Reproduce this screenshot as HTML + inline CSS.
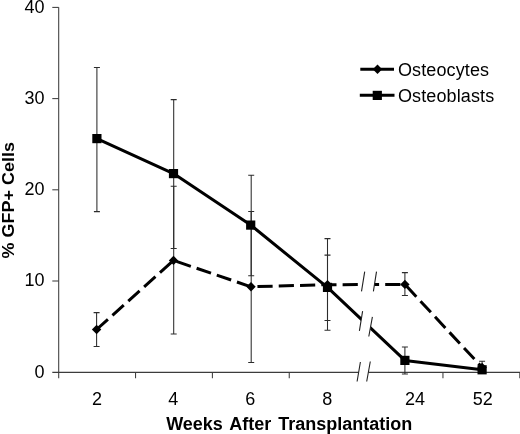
<!DOCTYPE html><html><head><meta charset="utf-8"><style>html,body{margin:0;padding:0;background:#fff}svg{display:block;will-change:transform}text{font-family:"Liberation Sans",sans-serif;fill:#000}</style></head><body>
<svg width="520" height="434" viewBox="0 0 520 434">
<rect width="520" height="434" fill="#fff"/>
<g stroke="#3c3c3c" stroke-width="1.05" fill="none">
<line x1="58.7" y1="7.3" x2="58.7" y2="378.2"/>
<line x1="52.3" y1="372.35" x2="520" y2="372.35"/>
<line x1="52.3" y1="281.00" x2="58.7" y2="281.00"/>
<line x1="52.3" y1="189.80" x2="58.7" y2="189.80"/>
<line x1="52.3" y1="98.60" x2="58.7" y2="98.60"/>
<line x1="52.3" y1="7.40" x2="58.7" y2="7.40"/>
<line x1="135.55" y1="372.2" x2="135.55" y2="378.2"/>
<line x1="212.40" y1="372.2" x2="212.40" y2="378.2"/>
<line x1="289.25" y1="372.2" x2="289.25" y2="378.2"/>
<line x1="366.10" y1="372.2" x2="366.10" y2="378.2"/>
<line x1="442.95" y1="372.2" x2="442.95" y2="378.2"/>
<line x1="519.80" y1="372.2" x2="519.80" y2="378.2"/>
</g>
<g stroke="#2c2c2c" stroke-width="1.05" fill="none">
<path d="M93.9 67.4H99.9M93.9 211.6H99.9M96.9 67.4V211.6"/>
<path d="M170.7 99.6H176.7M170.7 248.5H176.7M173.7 99.6V248.5"/>
<path d="M248.2 175.2H254.2M248.2 275.8H254.2M251.2 175.2V275.8"/>
<path d="M324.5 255.1H330.5M324.5 320.4H330.5M327.5 255.1V320.4"/>
<path d="M401.9 346.9H407.9M401.9 373.9H407.9M404.9 346.9V373.9"/>
<path d="M479.1 361.3H485.1M479.1 371H485.1M482.1 361.3V371"/>
<path d="M93.6 312.6H99.6M93.6 346.5H99.6M96.6 312.6V346.5"/>
<path d="M170.7 186.3H176.7M170.7 333.9H176.7M173.7 186.3V333.9"/>
<path d="M248.2 211.5H254.2M248.2 362.4H254.2M251.2 211.5V362.4"/>
<path d="M324.5 238.6H330.5M324.5 330.3H330.5M327.5 238.6V330.3"/>
<path d="M401.9 272.6H407.9M401.9 295.4H407.9M404.9 272.6V295.4"/>
</g>
<polyline points="96.6,329.5 173.5,260.4 251.0,286.8 327.5,284.7 404.9,284.4 482.1,367.4" fill="none" stroke="#000" stroke-width="3" stroke-dasharray="15.2 6.1" stroke-linejoin="round"/>
<polyline points="96.9,138.6 173.5,173.6 250.7,225.1 327.5,287.4 404.9,360.4 482.1,369.8" fill="none" stroke="#000" stroke-width="3" stroke-linejoin="round"/>
<path d="M91.9 329.5L96.6 324.8L101.3 329.5L96.6 334.2Z" fill="#000"/>
<path d="M168.8 260.4L173.5 255.7L178.2 260.4L173.5 265.1Z" fill="#000"/>
<path d="M246.3 286.8L251.0 282.1L255.7 286.8L251.0 291.5Z" fill="#000"/>
<path d="M322.8 284.7L327.5 280.0L332.2 284.7L327.5 289.4Z" fill="#000"/>
<path d="M400.2 284.4L404.9 279.7L409.6 284.4L404.9 289.1Z" fill="#000"/>
<path d="M477.4 367.4L482.1 362.7L486.8 367.4L482.1 372.1Z" fill="#000"/>
<rect x="92.3" y="134.0" width="9.2" height="9.2" fill="#000"/>
<rect x="168.9" y="169.0" width="9.2" height="9.2" fill="#000"/>
<rect x="246.1" y="220.5" width="9.2" height="9.2" fill="#000"/>
<rect x="322.9" y="282.8" width="9.2" height="9.2" fill="#000"/>
<rect x="400.3" y="355.8" width="9.2" height="9.2" fill="#000"/>
<rect x="477.5" y="365.2" width="9.2" height="9.2" fill="#000"/>
<path d="M364.7 271.6L376.5 271.6L373.4 291.3L361.5 291.3Z" fill="#fff"/>
<path d="M364.7 271.6L361.5 291.3M376.5 271.6L373.4 291.3" stroke="#222" stroke-width="1.1" fill="none"/>
<path d="M362.6 311.1L372.4 316.8L368.8 336.5L359.4 330.8Z" fill="#fff"/>
<path d="M362.6 311.1L359.4 330.8M372.4 316.8L368.8 336.5" stroke="#222" stroke-width="1.1" fill="none"/>
<path d="M360.4 362.0L370.3 361.5L366.7 381.5L357.1 381.5Z" fill="#fff"/>
<path d="M360.4 362.0L357.1 381.5M370.3 361.5L366.7 381.5" stroke="#222" stroke-width="1.1" fill="none"/>
<line x1="360.3" y1="69.2" x2="394" y2="69.2" stroke="#000" stroke-width="3"/>
<path d="M372.8 69.2L377.5 64.5L382.2 69.2L377.5 73.9Z" fill="#000"/>
<line x1="359.8" y1="95.3" x2="394.5" y2="95.3" stroke="#000" stroke-width="3"/>
<rect x="372.7" y="90.8" width="9.2" height="9.2" fill="#000"/>
<text x="398.0" y="76" font-size="18" letter-spacing="0.12">Osteocytes</text>
<text x="398.0" y="101.8" font-size="18" letter-spacing="0.12">Osteoblasts</text>
<text x="44.6" y="377.60" font-size="18" text-anchor="end">0</text>
<text x="44.6" y="286.40" font-size="18" text-anchor="end">10</text>
<text x="44.6" y="195.20" font-size="18" text-anchor="end">20</text>
<text x="44.6" y="104.00" font-size="18" text-anchor="end">30</text>
<text x="44.6" y="12.80" font-size="18" text-anchor="end">40</text>
<text x="96.92" y="404.9" font-size="18" text-anchor="middle">2</text>
<text x="173.38" y="404.9" font-size="18" text-anchor="middle">4</text>
<text x="250.32" y="404.9" font-size="18" text-anchor="middle">6</text>
<text x="327.17" y="404.9" font-size="18" text-anchor="middle">8</text>
<text x="415.10" y="404.9" font-size="18" text-anchor="middle">24</text>
<text x="482.80" y="404.9" font-size="18" text-anchor="middle">52</text>
<text x="289.2" y="429.7" font-size="18" font-weight="bold" text-anchor="middle" word-spacing="2">Weeks After Transplantation</text>
<text transform="translate(13.5,200.3) rotate(-90) scale(1,0.9)" font-size="18" font-weight="bold" text-anchor="middle">% GFP+ Cells</text>
</svg></body></html>
